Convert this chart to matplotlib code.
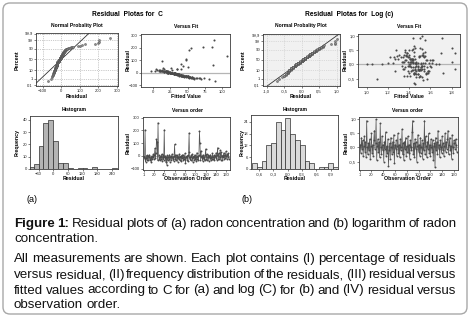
import matplotlib
matplotlib.use("Agg")
import matplotlib.pyplot as plt
import numpy as np
from matplotlib.patches import FancyBboxPatch
from statistics import NormalDist

plt.rcParams['font.family'] = ['Liberation Sans', 'DejaVu Sans']

# ---- data ----
# (a) residuals of C, in observation order
res_a = [-5, -20, 205, -45, -15, 5, -30, 0, -35, -10, 10, -25, -30, -5, -50,
         0, -25, -10, 15, -20, 5, 60, -15, 20, 130, 110, -35, 260, 10, -25,
         -5, -30, 0, -20, 15, -40, -10, 5, -30, 205, -15, 0, -50, -10, -70,
         5, -35, -5, -20, 10, -45, -10, 0, -30, 15, -25, -5, -40, 0, 90,
         -20, 10, -35, -10, 5, -45, -5, -25, 15, -30, -10, 0, -40, 5, -15,
         10, -35, -5, -20, 20, -55, -10, 0, -30, 5, -40, 30, 180, -20, -5,
         -35, 5, -15, 15, -45, -10, 0, -30, 10, -25, -5, -40, 25, -20, 0,
         -35, 10, 195, 100, -30, 40, -15, 0, -40, 10, -25, -5, -35, 5, 55,
         -20, 15, -30, -10, 5, -40, 0, -15, 10, -35, -5, -25, 20, -20, -10,
         5, -35, 0, -15, 25, -30, 10, 65, -20, 20, -25, -5, 45, -30, 30,
         0, -35, 5, -10, 25, -20, 10, -15, 35, 0, -25, 15, -5, 20, -20]
fit_a = [22, 35, 72, 52, 30, 18, 44, 26, 48, 30, 12, 38, 40, 22, 60,
         20, 40, 30, 10, 36, 16, 87, 32, 8, 108, 47, 50, 88, 22, 42,
         25, 46, 24, 38, 3, 56, 30, 20, 45, 85, 34, 28, 70, 31, 90,
         15, 50, 28, 40, 18, 62, 33, 26, 48, -3, 43, 28, 55, 22, 13,
         37, 14, 51, 33, 20, 68, 28, 42, 10, 47, 35, 24, 60, 21, 36,
         17, 54, 31, 40, 6, 82, 34, 27, 50, 24, 66, 40, 52, 42, 30,
         53, 22, 37, 11, 74, 33, 28, 46, 18, 44, 32, 58, 35, 40, 25,
         57, 20, 55, 47, 48, 14, 36, 30, 64, 19, 42, 31, 52, 23, 44,
         38, 9, 49, 34, 21, 58, 26, 38, 20, 53, 30, 43, 12, 41, 33,
         24, 56, 28, 35, 16, 50, 18, 40, 41, 27, 45, 32, 50, 51, 35,
         27, 45, 21, 34, 4, 40, 15, 36, 26, 30, 47, 13, 28, 10, 43]
# (a) histogram, bins of width 20
hist_a_left = [-100, -80, -60, -40, -20, 0, 20, 40, 60, 80, 100, 120, 140, 160, 180, 200, 220, 240]
hist_a_cnt = [2, 4, 19, 37, 40, 23, 5, 5, 1, 0, 1, 1, 0, 2, 0, 0, 0, 1]

# (b) residuals of log(C), in observation order
res_b = [0.10, -0.20, 0.35, -0.05, 0.25, -0.30, 0.05, 0.40, -0.15, 0.20, -0.35, 0.95, 0.00, -0.25, 0.15,
         -0.10, 0.30, -0.40, 0.05, 0.50, -0.20, 0.10, -0.30, 0.25, 0.60, -0.05, 0.15, 1.00, -0.45, 0.05,
         0.30, -0.15, 0.20, -0.35, 0.85, 0.00, -0.25, 0.40, -0.10, 0.10, -0.50, 0.20, -0.05, 0.55, -0.30,
         0.05, -0.20, 0.30, -0.65, -0.10, 0.15, -0.40, 0.35, 0.00, -0.25, 0.20, -0.15, 0.45, -0.55, 0.10,
         -0.05, 0.25, -0.30, 0.05, 0.50, -0.20, 0.10, -0.35, 0.30, -0.10, 0.00, 0.65, -0.25, 0.15, -0.45,
         0.20, -0.05, 0.35, -0.30, 0.05, -0.15, 0.40, -0.20, 0.10, -0.40, 0.25, 0.00, -0.10, 0.55, 0.95,
         -0.25, 0.15, -0.35, 0.30, -0.05, 0.20, -0.50, 0.05, 0.45, -0.15, 0.10, -0.30, 0.35, -0.20, 0.00,
         0.25, -0.40, 0.15, -0.10, 0.95, -0.25, 0.40, 0.05, -0.35, 0.20, -0.05, 0.50, -0.20, 0.10, -0.30,
         0.30, 0.00, -0.15, 0.25, -0.45, 0.05, 0.15, -0.70, 0.35, -0.10, 0.20, -0.25, 0.60, -0.05, 0.10,
         -0.35, 0.25, 0.00, -0.20, 0.40, -0.10, 0.15, -0.30, 0.05, 0.50, -0.15, 0.20, -0.05, 0.30, 0.60,
         -0.25, 0.10, 0.35, -0.10, 0.05, -0.40, 0.45, 0.00, -0.20, 0.25, 0.15, -0.05, 0.30, 0.10, -0.15]
fit_b = [1.42, 1.48, 1.35, 1.52, 1.40, 1.45, 1.55, 1.38, 1.50, 1.30, 1.47, 1.44, 1.00, 1.58, 1.36,
         1.46, 1.53, 1.41, 1.62, 1.28, 1.49, 1.43, 1.56, 1.34, 1.50, 1.39, 1.60, 1.52, 1.47, 1.25,
         1.37, 1.54, 1.44, 1.48, 1.55, 1.05, 1.42, 1.70, 1.51, 1.33, 1.57, 1.46, 1.40, 1.52, 1.45,
         1.20, 1.49, 1.38, 1.45, 1.61, 1.43, 1.50, 1.31, 1.47, 1.59, 1.41, 1.35, 1.55, 1.53, 1.44,
         1.48, 1.39, 1.72, 1.46, 1.36, 1.51, 1.42, 1.56, 1.29, 1.48, 1.65, 1.45, 1.54, 1.37, 1.49,
         1.43, 1.52, 1.40, 1.58, 1.47, 1.34, 1.53, 1.46, 1.41, 1.50, 1.32, 1.15, 1.57, 1.44, 1.50,
         1.39, 1.62, 1.48, 1.45, 1.54, 1.27, 1.10, 1.51, 1.36, 1.46, 1.80, 1.40, 1.52, 1.43, 1.68,
         1.49, 1.35, 1.57, 1.44, 1.71, 1.47, 1.38, 1.53, 1.45, 1.41, 1.60, 1.43, 1.50, 1.34, 1.46,
         1.55, 1.40, 1.48, 1.22, 1.52, 1.44, 1.63, 1.46, 1.37, 1.51, 1.42, 1.58, 1.80, 1.47, 1.39,
         1.45, 1.54, 1.41, 1.49, 1.83, 1.36, 1.44, 1.57, 1.48, 1.40, 1.52, 1.43, 1.33, 1.50, 1.46,
         1.27, 1.47, 1.53, 1.42, 1.59, 1.38, 1.45, 1.51, 1.44, 1.26, 1.56, 1.41, 1.49, 1.35, 1.83]
# (b) histogram, bins of width 0.1
hist_b_mid = [-0.7, -0.6, -0.5, -0.4, -0.3, -0.2, -0.1, 0.0, 0.1, 0.2, 0.3, 0.4, 0.5, 0.6, 0.7, 0.8, 0.9, 1.0]
hist_b_cnt = [3, 1, 4, 12, 13, 24, 20, 26, 18, 15, 12, 4, 3, 0, 1, 1, 3, 1]

prob_ticks = [0.1, 1, 10, 50, 90, 99, 99.9]

caption1 = "Figure 1: Residual plots of (a) radon concentration and (b) logarithm of radon"
caption2 = "concentration."
para = ["All measurements are shown. Each plot contains (I) percentage of residuals",
        "versus residual, (II) frequency distribution of the residuals, (III) residual versus",
        "fitted values according to C for (a) and log (C) for (b) and (IV) residual versus",
        "observation order."]

# ---- figure ----
W, H = 470, 317
fig = plt.figure(figsize=(W / 100, H / 100), dpi=100)
bg = fig.add_axes([0, 0, 1, 1])
bg.set_xlim(0, W)
bg.set_ylim(H, 0)
bg.axis('off')
bg.add_patch(FancyBboxPatch((3, 3), 464, 311, boxstyle="round,pad=0,rounding_size=7",
                            fc='white', ec='#a8a8a8', lw=1.0))

nd = NormalDist()
gray_pts = '#4a4a4a'


def comma(v, p=None):
    return f"{v:.1f}".replace('.', ',')


def panel_ax(x0, y0, x1, y1, face='white'):
    ax = fig.add_axes([x0 / W, 1 - y1 / H, (x1 - x0) / W, (y1 - y0) / H], facecolor=face)
    for s in ax.spines.values():
        s.set_linewidth(0.6)
        s.set_color('#3a3a3a')
    ax.tick_params(labelsize=3.0, length=1.4, width=0.4, pad=0.8, colors='#222222')
    return ax


def label(x, y, s, size=3.8, rot=0):
    bg.text(x, y, s, ha='center', va='center', fontsize=size, weight='bold', rotation=rot)


def npp(ax, res, xlim, grid_bg):
    r = np.sort(np.array(res, dtype=float))
    n = len(r)
    z = [nd.inv_cdf((i - 0.3) / (n + 0.4)) for i in range(1, n + 1)]
    ylo, yhi = nd.inv_cdf(0.0007), nd.inv_cdf(0.9993)
    m, s = r.mean(), r.std(ddof=1)
    zz = np.array([ylo, yhi])
    ax.plot(m + s * zz, zz, color='#333333', lw=0.6, zorder=2)
    ax.plot(r, z, 'o', ms=1.5, mfc='#8c8c8c', mec=gray_pts, mew=0.3, zorder=3)
    ax.set_ylim(ylo, yhi)
    ax.set_xlim(*xlim)
    ax.set_yticks([nd.inv_cdf(p / 100) for p in prob_ticks])
    ax.grid(True, ls=':', lw=0.5, color=grid_bg)


# ================= panel (a) =================
label(127, 15, "Residual  Plotas for  C", size=4.8)

ax = panel_ax(36, 33, 118, 86)
npp(ax, res_a, (-135, 305), '#9a9a9a')
ax.set_yticklabels(["0.1", "1", "10", "50", "90", "99", "99.9"])
ax.set_xticks([-100, 0, 100, 200, 300])
label(77, 26, "Normal Probality Plot", 3.6)
label(77, 97, "Residual")
label(17, 60, "Percent", rot=90)

ax = panel_ax(141, 34, 230, 87)
ax.axhline(0, color='#b5b5b5', lw=0.9, zorder=1)
ax.plot(fit_a, res_a, 'o', ms=1.5, color=gray_pts, mew=0, zorder=3)
ax.set_xlim(-18, 112)
ax.set_ylim(-115, 308)
ax.set_xticks([0, 25, 50, 75, 100])
ax.set_yticks([-100, 0, 100, 200, 300])
label(186, 26, "Versus Fit", 3.6)
label(186, 97, "Fitted Value")
label(128, 60, "Residual", rot=90)

ax = panel_ax(30, 116, 118, 169)
ax.bar(hist_a_left, hist_a_cnt, width=20, align='edge', color='#b4b4b4', ec='#2e2e2e', lw=0.5)
ax.set_xlim(-95, 265)
ax.set_ylim(0, 43)
ax.set_xticks([-60, 0, 60, 120, 180, 240])
ax.set_yticks([0, 10, 20, 30, 40])
label(74, 109, "Histogram", 3.6)
label(74, 179, "Residual")
label(17, 142, "Frequency", rot=90)

ax = panel_ax(143, 117, 230, 170)
obs_a = np.arange(1, len(res_a) + 1)
ax.axhline(0, color='#b5b5b5', lw=0.9, zorder=1)
ax.plot(obs_a, res_a, '-o', color='#555555', lw=0.5, ms=1.4, mfc=gray_pts, mew=0, zorder=3)
ax.set_xlim(-1, 167)
ax.set_ylim(-110, 305)
ax.set_xticks([1, 20, 40, 60, 80, 100, 120, 140, 160])
ax.set_yticks([-100, 0, 100, 200, 300])
label(187, 110, "Versus order", 3.6)
label(187, 179, "Observation Order")
label(128, 143, "Residual", rot=90)

bg.text(32, 200, "(a)", ha='center', va='center', fontsize=6.5)

# ================= panel (b) =================
label(349, 15, "Residual  Plotas for  Log (c)", size=4.8)

ax = panel_ax(263, 34, 340, 86, face='#f1f1f1')
npp(ax, res_b, (-1.1, 1.1), '#c4c4c4')
ax.set_yticklabels(["0,1", "1", "10", "50", "90", "99", "99,9"])
ax.set_xticks([-1.0, -0.5, 0.0, 0.5, 1.0])
ax.xaxis.set_major_formatter(comma)
label(301, 26, "Normal Probality Plot", 3.6)
label(301, 97, "Residual")
label(243, 60, "Percent", rot=90)

ax = panel_ax(358, 34, 460, 87, face='#f1f1f1')
ax.axhline(0, color='#b5b5b5', lw=0.9, zorder=1)
ax.plot(fit_b, res_b, 'o', ms=1.5, color=gray_pts, mew=0, zorder=3)
ax.set_xlim(0.92, 1.88)
ax.set_ylim(-0.8, 1.08)
ax.set_xticks([1.0, 1.2, 1.4, 1.6, 1.8])
ax.set_yticks([-0.5, 0.0, 0.5, 1.0])
ax.xaxis.set_major_formatter(comma)
ax.yaxis.set_major_formatter(comma)
label(409, 26, "Versus Fit", 3.6)
label(409, 97, "Fitted Value")
label(345, 60, "Residual", rot=90)

ax = panel_ax(251, 115, 338, 169)
ax.bar(hist_b_mid, hist_b_cnt, width=0.1, color='#dadada', ec='#2e2e2e', lw=0.5)
ax.set_xlim(-0.77, 1.05)
ax.set_ylim(0, 27.5)
ax.set_xticks([-0.6, -0.3, 0.0, 0.3, 0.6, 0.9])
ax.set_yticks([0, 6, 12, 18, 24])
ax.xaxis.set_major_formatter(comma)
label(295, 110, "Histogram", 3.6)
label(295, 179, "Residual")
label(242, 142, "Frequency", rot=90)

ax = panel_ax(359, 117, 458, 170, face='#f1f1f1')
obs_b = np.arange(1, len(res_b) + 1)
ax.axhline(0, color='#b5b5b5', lw=0.9, zorder=1)
ax.plot(obs_b, res_b, '-o', color='#555555', lw=0.5, ms=1.4, mfc=gray_pts, mew=0, zorder=3)
ax.set_xlim(-1, 167)
ax.set_ylim(-0.8, 1.08)
ax.set_xticks([1, 20, 40, 60, 80, 100, 120, 140, 160])
ax.set_yticks([-0.5, 0.0, 0.5, 1.0])
ax.yaxis.set_major_formatter(comma)
label(408, 110, "Versus order", 3.6)
label(408, 179, "Observation Order")
label(346, 143, "Residual", rot=90)

bg.text(247, 199, "(b)", ha='center', va='center', fontsize=6.5)

# ================= caption (justified) =================
renderer = fig.canvas.get_renderer()
X0, X1 = 14, 456
FS = 9.6


def put_line(words, y, justify=True, n_bold=0):
    ts = []
    for i, w in enumerate(words):
        ts.append(bg.text(0, y, w, fontsize=FS, va='baseline', ha='left',
                          weight='bold' if i < n_bold else 'normal', color='#111111'))
    widths = [t.get_window_extent(renderer).width for t in ts]
    gap = (X1 - X0 - sum(widths)) / (len(ts) - 1) if justify else FS * 1.389 * 0.278
    x = X0
    for t, w in zip(ts, widths):
        t.set_x(x)
        x += w + gap


put_line(caption1.split(), 227, n_bold=2)
put_line(caption2.split(), 241.5, justify=False)
for k, (line, y) in enumerate(zip(para, [262, 278, 293.5, 308.5])):
    put_line(line.split(), y, justify=(k < len(para) - 1))

fig.savefig("out.png", dpi=100)
